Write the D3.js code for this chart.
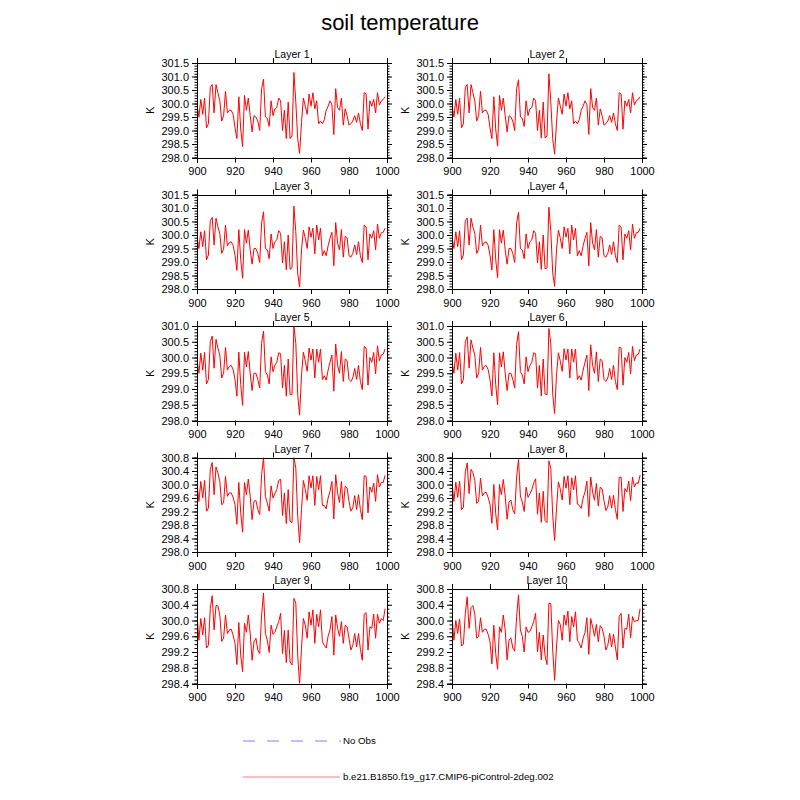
<!DOCTYPE html>
<html>
  <head>
    <meta charset="utf-8">
    <title>soil temperature</title>
    <style media="screen">
      body {margin:0; background:#fff}
      svg {font-family: "Liberation Sans", Arial, sans-serif}
      .domain {stroke:#000}
      .tick line {stroke:#000}
    </style>
  </head>
  <body>
    <script src="https://cdn.jsdelivr.net/npm/d3@7"></script>
    <script type="text/javascript">

    // model years on the x axis
    const years = d3.range(900, 1000)
    const xTicks = [900, 920, 940, 960, 980, 1000]

    const layerNames = ['Layer 1', 'Layer 2', 'Layer 3', 'Layer 4', 'Layer 5',
                        'Layer 6', 'Layer 7', 'Layer 8', 'Layer 9', 'Layer 10']

    // y range / major tick step for each row of panels
    const rowDomains = [[298, 301.5], [298, 301.5], [298, 301], [298, 300.8], [298.4, 300.8]]
    const rowSteps = [0.5, 0.5, 0.5, 0.4, 0.4]

    const legendLabels = ['No Obs', 'b.e21.B1850.f19_g17.CMIP6-piControl-2deg.002']

    // soil temperature (K), one value per year
    const layer1 = [299.95,299.5,300.15,299.6,300.2,299.1,299.25,300.6,300.7,299.65,
      300.7,300.4,300.1,299.35,299.55,300.45,299.65,299.75,299.75,299.6,
      299.1,298.7,300.25,299.05,298.4,300.3,299.75,300.2,299.55,298.95,
      299.55,299.5,299.35,299.0,300.55,300.9,299.5,299.45,299.15,300.1,
      299.55,299.8,299.85,300.2,300.1,299.0,299.75,298.7,300.05,298.7,
      298.8,301.15,300.05,298.7,298.15,299.3,300.2,299.9,299.6,300.35,
      299.9,300.4,299.8,300.1,299.25,299.35,299.25,299.4,299.75,299.9,
      300.1,299.95,298.85,300.55,299.85,299.75,300.2,299.2,299.8,299.55,
      299.2,299.25,299.35,299.55,299.3,299.65,299.25,299.0,300.4,300.35,
      299.05,300.1,299.9,300.15,299.65,300.4,299.95,300.1,300.15,300.25]
    const layer2 = [299.95,299.5,300.15,299.6,300.2,299.1,299.25,300.6,300.7,299.65,
      300.7,300.4,300.1,299.35,299.55,300.45,299.65,299.75,299.75,299.6,
      299.1,298.7,300.25,299.05,298.42,300.3,299.75,300.2,299.55,298.95,
      299.55,299.5,299.35,299.0,300.55,300.88,299.5,299.45,299.15,300.1,
      299.55,299.8,299.85,300.2,300.1,299.0,299.75,298.72,300.05,298.72,
      298.8,301.1,300.05,298.7,298.12,299.3,300.2,299.9,299.6,300.35,
      299.9,300.4,299.8,300.1,299.25,299.35,299.25,299.4,299.75,299.9,
      300.1,299.95,298.85,300.55,299.85,299.75,300.2,299.2,299.8,299.55,
      299.2,299.25,299.35,299.55,299.3,299.65,299.25,299.0,300.4,300.35,
      299.05,300.1,299.9,300.15,299.65,300.4,299.95,300.1,300.15,300.25]
    const layer3 = [299.9,299.5,300.12,299.57,300.16,299.08,299.26,300.53,300.65,299.63,
      300.62,300.3,300.06,299.32,299.47,300.37,299.6,299.72,299.75,299.62,
      299.25,298.69,300.2,299.1,298.4,300.2,299.7,300.18,299.45,298.92,
      299.5,299.5,299.32,298.98,300.45,300.86,299.5,299.45,299.12,300.04,
      299.5,299.75,299.82,300.16,300.06,298.96,299.75,298.71,300.0,298.73,
      298.78,301.07,300.12,298.59,298.07,299.45,300.18,299.88,299.5,300.3,
      299.92,300.25,299.3,300.37,299.82,300.25,299.23,299.42,299.23,299.6,
      299.88,300.1,298.86,300.46,299.7,299.45,300.2,299.18,299.95,299.9,
      299.23,299.18,299.32,299.63,299.28,299.75,299.23,298.98,300.37,300.3,
      299.08,300.04,299.88,300.16,299.45,300.4,299.88,300.08,300.1,300.25]
    const layer4 = [299.9,299.5,300.12,299.57,300.16,299.08,299.26,300.53,300.63,299.63,
      300.62,300.3,300.06,299.32,299.47,300.37,299.6,299.72,299.75,299.62,
      299.25,298.7,300.2,299.1,298.42,300.2,299.7,300.18,299.45,298.92,
      299.5,299.5,299.32,298.98,300.45,300.84,299.5,299.45,299.12,300.04,
      299.5,299.75,299.82,300.16,300.06,298.96,299.75,298.72,300.0,298.75,
      298.78,301.03,300.15,298.6,298.1,299.45,300.18,299.88,299.5,300.3,
      299.92,300.25,299.3,300.37,299.82,300.25,299.23,299.42,299.23,299.6,
      299.88,300.1,298.86,300.46,299.7,299.45,300.2,299.18,299.95,299.9,
      299.23,299.18,299.32,299.63,299.28,299.75,299.23,298.98,300.37,300.3,
      299.08,300.04,299.88,300.16,299.45,300.4,299.88,300.08,300.1,300.25]
    const layer5 = [299.9,299.5,300.14,299.6,300.16,299.16,299.3,300.5,300.68,299.66,
      300.58,300.3,300.08,299.35,299.5,300.32,299.6,299.72,299.75,299.62,
      299.3,298.77,300.17,299.15,298.48,300.17,299.7,300.19,299.5,298.95,
      299.5,299.5,299.3,299.03,300.45,300.84,299.55,299.45,299.16,300.02,
      299.55,299.75,299.85,300.15,300.12,299.03,299.75,298.77,299.95,298.82,
      298.82,300.98,300.45,298.82,298.17,299.45,300.17,299.88,299.56,300.3,
      299.92,300.27,299.35,300.27,299.85,300.27,299.3,299.42,299.28,299.6,
      299.85,300.08,298.93,300.43,299.75,299.5,300.19,299.24,299.95,299.9,
      299.3,299.24,299.35,299.65,299.3,299.75,299.24,298.98,300.35,300.3,
      299.12,300.0,299.85,300.16,299.48,300.37,299.9,300.08,300.1,300.27]
    const layer6 = [299.9,299.5,300.14,299.6,300.16,299.16,299.3,300.5,300.66,299.66,
      300.56,300.3,300.08,299.35,299.5,300.32,299.6,299.72,299.75,299.62,
      299.3,298.78,300.15,299.15,298.5,300.15,299.7,300.18,299.5,298.95,
      299.5,299.5,299.3,299.03,300.42,300.82,299.55,299.45,299.16,300.02,
      299.55,299.75,299.85,300.15,300.12,299.03,299.75,298.78,299.95,298.84,
      298.82,300.92,300.45,298.85,298.22,299.45,300.15,299.88,299.56,300.28,
      299.92,300.27,299.35,300.27,299.85,300.27,299.3,299.42,299.28,299.6,
      299.85,300.08,298.95,300.4,299.75,299.5,300.18,299.24,299.95,299.9,
      299.3,299.24,299.35,299.65,299.3,299.75,299.24,298.98,300.33,300.3,
      299.12,300.0,299.85,300.16,299.48,300.35,299.9,300.08,300.1,300.27]
    const layer7 = [300.0,299.5,300.09,299.6,300.12,299.21,299.3,300.44,300.65,299.7,
      300.52,300.34,300.09,299.4,299.45,300.24,299.65,299.75,299.75,299.62,
      299.4,298.82,300.06,299.16,298.59,300.06,299.7,300.16,299.65,298.96,
      299.5,299.53,299.26,299.11,300.29,300.8,299.65,299.45,299.21,299.96,
      299.6,299.73,299.85,300.12,300.16,299.08,299.75,298.84,299.85,298.91,
      298.87,300.8,300.49,299.06,298.28,299.26,300.12,299.85,299.53,300.26,
      299.9,300.26,299.38,300.24,299.85,300.26,299.38,299.38,299.28,299.6,
      299.8,300.09,298.98,300.29,299.75,299.47,300.09,299.31,299.95,299.9,
      299.5,299.21,299.31,299.67,299.26,299.7,299.26,298.96,300.26,300.24,
      299.16,299.93,299.77,300.04,299.5,300.29,299.93,300.06,300.06,300.27]
    const layer8 = [300.06,299.5,300.07,299.62,300.1,299.25,299.33,300.38,300.64,299.73,
      300.45,300.35,300.12,299.44,299.5,300.19,299.66,299.75,299.77,299.62,
      299.41,298.85,300.0,299.14,298.65,300.0,299.7,300.15,299.66,298.97,
      299.48,299.54,299.25,299.13,300.22,300.74,299.66,299.48,299.2,299.92,
      299.62,299.72,299.84,300.05,300.17,299.12,299.75,298.88,299.8,298.93,
      298.87,300.7,300.47,299.09,298.34,299.28,300.08,299.86,299.54,300.24,
      299.89,300.26,299.4,300.2,299.84,300.26,299.42,299.38,299.29,299.6,
      299.78,300.1,299.05,300.22,299.78,299.53,300.03,299.36,299.92,299.87,
      299.52,299.23,299.34,299.67,299.3,299.68,299.26,298.97,300.21,300.22,
      299.2,299.88,299.78,300.1,299.52,300.22,299.93,300.05,300.03,300.28]
    const layer9 = [300.14,299.5,300.05,299.63,300.07,299.3,299.37,300.3,300.63,299.76,
      300.38,300.37,300.14,299.47,299.55,300.14,299.67,299.76,299.78,299.63,
      299.42,298.88,299.95,299.12,298.7,299.93,299.7,300.14,299.67,298.99,
      299.46,299.55,299.25,299.16,300.14,300.7,299.67,299.5,299.19,299.88,
      299.65,299.7,299.84,299.97,300.18,299.16,299.75,298.93,299.76,298.95,
      298.87,300.56,300.44,299.12,298.4,299.3,300.05,299.88,299.55,300.22,
      299.88,300.27,299.42,300.16,299.84,300.27,299.46,299.37,299.3,299.6,
      299.76,300.1,299.12,300.14,299.8,299.6,299.97,299.42,299.88,299.84,
      299.55,299.25,299.37,299.67,299.33,299.67,299.27,298.99,300.16,300.2,
      299.25,299.84,299.8,300.16,299.55,300.16,299.93,300.05,300.0,300.3]
    const layer10 = [300.1,299.5,300.0,299.67,300.04,299.35,299.4,300.18,300.6,299.8,
      300.33,300.38,300.16,299.55,299.6,300.07,299.7,299.78,299.78,299.65,
      299.46,298.9,299.88,299.16,298.76,299.84,299.7,300.14,299.76,299.0,
      299.5,299.56,299.3,299.22,300.1,300.65,299.76,299.6,299.2,299.84,
      299.7,299.72,299.84,299.97,300.18,299.2,299.7,299.0,299.63,299.1,
      298.88,300.44,300.43,299.25,298.48,299.33,300.0,299.9,299.5,300.14,
      299.88,300.24,299.46,300.1,299.84,300.22,299.5,299.42,299.3,299.55,
      299.7,300.07,299.14,300.05,299.84,299.6,299.9,299.46,299.87,299.8,
      299.6,299.25,299.37,299.67,299.33,299.65,299.33,299.0,300.1,300.18,
      299.3,299.8,299.78,300.16,299.56,300.1,299.97,300.0,300.0,300.3]

    const layers = [layer1, layer2, layer3, layer4, layer5,
                    layer6, layer7, layer8, layer9, layer10]

    const W = 800, H = 800
    const colX = [197, 452]
    const plotW = 190, plotH = 94.5
    const rowY = [63, 194.5, 326, 457.5, 589]

    const svg = d3.select('body').append('svg')
      .attr('width', W)
      .attr('height', H)

    svg.append('text')
      .attr('x', 400)
      .attr('y', 30)
      .attr('text-anchor', 'middle')
      .style('font-size', '22px')
      .text('soil temperature')

    const fmt = d3.format('.1f')

    layers.forEach((vals, i) => {
      const row = Math.floor(i / 2), col = i % 2
      const [lo, hi] = rowDomains[row]
      const step = rowSteps[row]

      const x = d3.scaleLinear().domain([900, 1000]).range([0, plotW])
      const y = d3.scaleLinear().domain([lo, hi]).range([plotH, 0])

      const major = d3.range(lo, hi + 1e-6, step)
      const minor = d3.range(lo, hi + 1e-6, 0.1)

      const g = svg.append('g')
        .attr('transform', `translate(${colX[col]}, ${rowY[row]})`)

      g.append('clipPath').attr('id', 'clip' + i)
        .append('rect').attr('width', plotW).attr('height', plotH)

      g.append('path')
        .datum(vals)
        .attr('clip-path', `url(#clip${i})`)
        .attr('fill', 'none')
        .attr('stroke', '#ff0000')
        .attr('stroke-width', 1)
        .attr('stroke-linejoin', 'round')
        .attr('d', d3.line().x((d, j) => x(years[j])).y(d => y(d)))

      // y minor ticks, both sides
      g.append('g').call(d3.axisLeft(y).tickValues(minor).tickSize(2.5).tickFormat(''))
      g.append('g').attr('transform', `translate(${plotW},0)`)
        .call(d3.axisRight(y).tickValues(minor).tickSize(2.5).tickFormat(''))

      g.append('g')
        .call(d3.axisLeft(y).tickValues(major).tickSize(5).tickPadding(3).tickFormat(fmt))
        .call(a => a.selectAll('text').style('font-size', '11px').attr('fill', '#000'))
      g.append('g').attr('transform', `translate(${plotW},0)`)
        .call(d3.axisRight(y).tickValues(major).tickSize(5).tickFormat(''))

      g.append('g').attr('transform', `translate(0,${plotH})`)
        .call(d3.axisBottom(x).tickValues(xTicks).tickSize(5).tickPadding(5).tickFormat(d3.format('d')))
        .call(a => a.selectAll('text').style('font-size', '11px').attr('fill', '#000'))
      g.append('g')
        .call(d3.axisTop(x).tickValues(xTicks).tickSize(5).tickFormat(''))

      g.selectAll('.domain').attr('shape-rendering', 'crispEdges')

      g.append('text')
        .attr('x', plotW / 2)
        .attr('y', -5)
        .attr('text-anchor', 'middle')
        .style('font-size', '10.5px')
        .text(layerNames[i])

      g.append('text')
        .attr('transform', `translate(-43, ${plotH / 2}) rotate(-90)`)
        .attr('text-anchor', 'middle')
        .style('font-size', '11px')
        .text('K')
    })

    // legend
    const leg = svg.append('g')
    leg.append('line')
      .attr('x1', 243).attr('x2', 341).attr('y1', 741).attr('y2', 741)
      .attr('stroke', '#aaaaff').attr('stroke-width', 1.5)
      .attr('stroke-dasharray', '12,12')
    leg.append('line')
      .attr('x1', 243).attr('x2', 340).attr('y1', 777).attr('y2', 777)
      .attr('stroke', '#ffaaaa').attr('stroke-width', 1.5)
    leg.selectAll('text.lbl')
      .data(legendLabels)
      .join('text')
      .attr('class', 'lbl')
      .attr('x', 343)
      .attr('y', (d, i) => 741 + i * 36)
      .attr('dy', '0.35em')
      .style('font-size', '9.7px')
      .text(d => d)
    </script>
  </body>
</html>
